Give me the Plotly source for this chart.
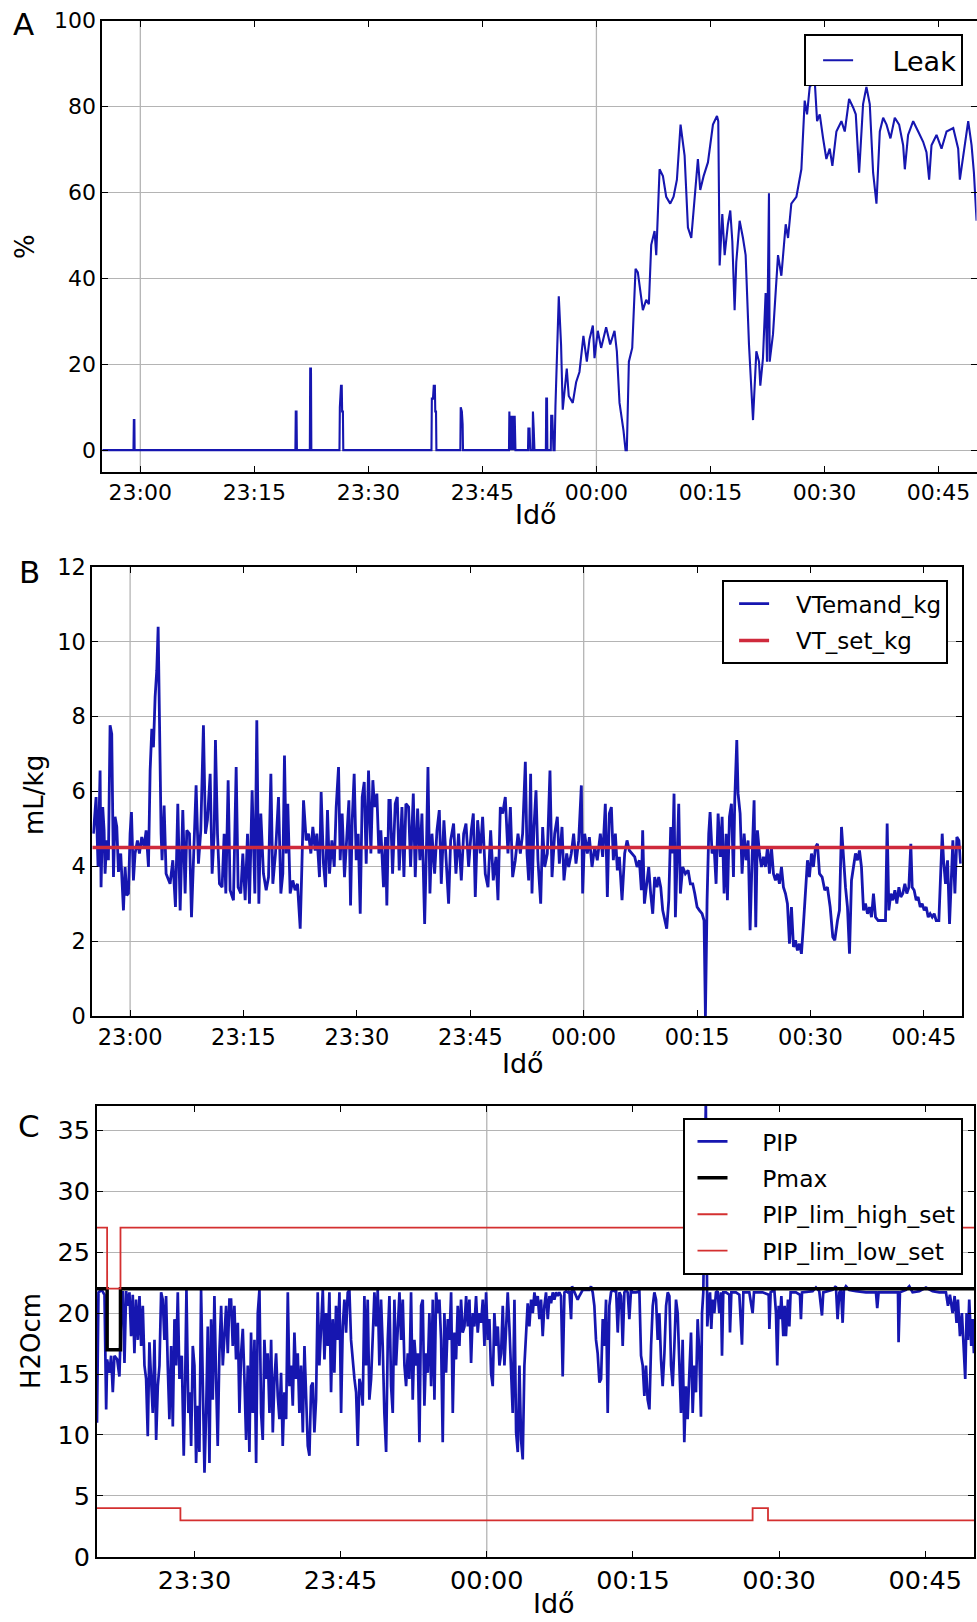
import pandas as pd
import plotly.graph_objects as go

# ---------------- data (minutes relative to 23:00) ----------------
leak_t = [-5, -0.9, -0.85, -0.78, -0.75, 20.4, 20.45, 20.55, 20.6, 22.3, 22.35, 22.45, 22.5,
          26.2, 26.25, 26.3, 26.4, 26.5, 26.55, 26.65, 26.7, 38.3, 38.35, 38.5, 38.6, 38.75, 38.8,
          38.9, 38.95, 42.1, 42.15, 42.3, 42.4, 42.45, 48.5, 48.55, 48.65, 48.75, 48.85, 49.0, 49.1,
          49.25, 49.35, 51.0, 51.05, 51.2, 51.3, 51.6, 51.65, 51.75, 51.85, 53.35, 53.4, 53.5, 53.55,
          54.0, 54.05, 54.2, 54.35, 54.5,
          54.61, 55.05, 55.35, 55.57, 56.1, 56.36, 56.89, 57.33, 57.77, 58.29, 58.74, 59.09, 59.53,
          59.75, 60.18, 60.62, 61.28, 61.81, 62.38, 62.69, 63.04, 63.56, 63.83, 64.0, 64.27, 64.71,
          65.15, 65.45, 66.11, 66.55, 66.9, 67.21, 67.65, 67.87, 68.31, 68.75, 69.18, 69.71, 70.15,
          70.59, 71.07, 71.6, 72.04, 72.48, 72.7, 73.05, 73.35, 73.66, 74.1, 74.67, 75.33, 75.86,
          76.03, 76.21, 76.56, 76.87, 77.3, 77.61, 77.88, 78.18, 78.4, 78.84, 79.28, 79.63, 80.07,
          80.6, 81.04, 81.39, 81.56, 81.91, 82.26, 82.44, 82.7, 82.79, 83.23, 83.89, 84.33, 84.9,
          85.21, 85.64, 86.31, 86.96, 87.4, 87.71, 88.06, 88.72, 89.03, 89.38, 89.82, 90.25, 90.69,
          91.04, 91.57, 92.23, 92.67, 93.24, 93.77, 94.12, 94.56, 95.08, 95.52, 95.96, 96.4, 96.84,
          97.28, 97.72, 98.16, 98.68, 99.25, 99.82, 100.35, 100.57, 101.0, 101.67, 102.33, 102.98,
          103.42, 103.77, 104.08, 104.74, 105.4, 106.06, 106.94, 107.59, 107.81, 108.25, 108.91,
          109.35, 109.66, 110.01]
leak_v = [0, 0, 7, 7, 0, 0, 9, 9, 0, 0, 19, 19, 0,
          0, 10, 14, 15, 15, 9, 9, 0, 0, 12, 12, 15, 15, 9,
          9, 0, 0, 10, 9, 6, 0, 0, 9, 0, 8, 0, 8, 0,
          8, 0, 0, 5, 5, 0, 0, 9, 5, 0, 0, 12, 12, 0,
          0, 8, 8, 0, 0,
          10.2, 35.8, 24.6, 9.4, 19, 12.6, 11, 15.8, 18.2, 26.6, 20.6, 25.8, 29,
          21.4, 27.8, 23.8, 28.6, 24.6, 27.8, 23, 11, 4.6, 0, 0, 20.6, 23.8,
          42.2, 41.4, 32.6, 35, 34, 47.8, 51, 45.4, 65.4, 63.8, 59, 57.4, 59,
          63, 75.8, 68.6, 51.8, 49.4, 55, 61.4, 67.8, 60.6, 63.8, 67, 75.8, 77.8,
          76.6, 43, 55, 45.4, 52.6, 55.8, 48.6, 32.6, 43.8, 53.4, 49.4, 45.4, 24.6,
          7, 23, 20.6, 15, 21.4, 36.6, 20.6, 59.8, 20.6, 27, 45.4, 40.6, 52.6,
          49.4, 57.4, 59, 65.4, 81.4, 78.2, 84.6, 86, 76.6, 78.2, 72.6, 67.8, 70.2,
          66.2, 74.2, 76.6, 74.2, 81.8, 79.8, 78.2, 64.6, 80.6, 84.6, 80.6, 64.6, 57.4,
          74.2, 77.4, 75.8, 72.6, 77.4, 75.8, 71, 65.4, 73.4, 76.6, 74.2, 71.8,
          69.4, 63, 71, 73.4, 70.2, 74.2, 75, 70.2, 63, 68.6, 76.6,
          71, 64.6, 53.4]

vt_t = [-4.85, -4.5, -4.24, -3.97, -3.84, -3.62, -3.44, -3.31, -3.09, -2.87, -2.65, -2.43, -2.2,
        -1.99, -1.76, -1.54, -1.24, -0.88, -0.66, -0.44, -0.22, 0.0, 0.18, 0.44, 0.66, 0.97, 1.23,
        1.54, 1.85, 2.12, 2.43, 2.65, 2.87, 3.09, 3.31, 3.53, 3.71, 3.84, 3.97, 4.1, 4.23, 4.5, 4.76,
        5.29, 5.65, 6.0, 6.31, 6.62, 6.97, 7.28, 7.5, 7.85, 8.12, 8.47, 8.73, 9.04, 9.35, 9.7, 9.97,
        10.23, 10.59, 10.85, 11.12, 11.29, 11.56, 11.82, 12.17, 12.44, 12.66, 12.97, 13.23, 13.67,
        14.03, 14.29, 14.64, 14.91, 15.22, 15.53, 15.79, 16.14, 16.5, 16.76, 17.03, 17.29, 17.64,
        18.0, 18.31, 18.62, 18.88, 19.23, 19.63, 19.94, 20.2, 20.42, 20.64, 20.86, 21.17, 21.52,
        21.83, 22.14, 22.5, 22.72, 22.94, 23.29, 23.6, 23.91, 24.17, 24.48, 24.7, 25.05, 25.27,
        25.58, 25.85, 26.11, 26.38, 26.69, 27.0, 27.26, 27.57, 27.79, 28.05, 28.36, 28.67, 28.94,
        29.16, 29.38, 29.64, 29.91, 30.17, 30.44, 30.7, 30.97, 31.23, 31.54, 31.85, 32.11, 32.33,
        32.64, 32.91, 33.17, 33.52, 33.79, 33.96, 34.23,
        34.41, 34.72, 35.07, 35.34, 35.6, 35.96, 36.22, 36.48, 36.84, 37.1, 37.46, 37.72, 38.03,
        38.34, 38.6, 38.96, 39.22, 39.4, 39.66, 39.93, 40.28, 40.59, 40.9, 41.16, 41.51, 41.82,
        42.13, 42.4, 42.79, 43.1, 43.45, 43.81, 44.12, 44.43, 44.78, 45.13, 45.4, 45.66, 45.97,
        46.32, 46.63, 46.98, 47.34, 47.69, 48.04, 48.4, 48.66, 48.97, 49.28, 49.63, 49.98, 50.3,
        50.6, 50.95, 51.31, 51.62, 51.92, 52.28, 52.5, 52.72, 52.98, 53.16, 53.42, 53.69, 53.95,
        54.31, 54.57, 54.84, 55.19, 55.54, 55.81, 56.16, 56.51, 56.78, 57.13, 57.39, 57.75, 58.01,
        58.36, 58.67, 58.98, 59.34, 59.69, 59.86, 60.13, 60.48, 60.75, 61.1, 61.45, 61.8, 62.2,
        62.51, 62.86, 63.13, 63.39, 63.66, 63.92, 64.19, 64.45, 64.72, 65.07, 65.42, 65.73, 66.04,
        66.39, 66.75, 67.06, 67.36, 67.63, 67.8, 68.03, 68.33, 68.6, 68.86, 69.13, 69.39, 69.7,
        69.92, 70.19, 70.45, 70.72, 70.98, 71.25, 71.51, 71.77, 71.95, 72.13,
        72.35, 72.57, 72.79, 73.1, 73.45, 73.81, 74.11, 74.42, 74.69, 75.0, 75.31, 75.66, 75.92,
        76.1, 76.32, 76.54, 76.72, 76.98, 77.25, 77.51, 77.78, 78.08, 78.31, 78.57, 78.84, 79.01,
        79.28, 79.54, 79.81, 79.98, 80.25, 80.42, 80.69, 80.95, 81.22, 81.48, 81.75, 82.01, 82.28,
        82.54, 82.76, 82.98, 83.25, 83.51, 83.78, 84.04, 84.31, 84.57, 84.83, 85.1, 85.36, 85.63,
        85.89, 86.16, 86.42, 86.69, 86.95, 87.22, 87.48, 87.75, 88.01, 88.27, 88.54, 88.8, 89.07,
        89.33, 89.6, 89.86, 90.13, 90.39, 90.66, 90.92, 91.19, 91.54, 91.89, 92.24, 92.6, 92.95,
        93.21, 93.57, 93.83, 94.1, 94.36, 94.63, 94.89, 95.16, 95.42, 95.69, 95.95, 96.21, 96.48,
        96.74, 97.01, 97.27, 97.54, 97.8, 98.07, 98.33, 98.6, 98.95, 99.3, 99.66, 99.92, 100.14,
        100.36, 100.63, 100.89, 101.16, 101.42, 101.69, 101.95, 102.21, 102.48, 102.74, 103.01,
        103.27, 103.45, 103.71, 103.98, 104.24, 104.51, 104.77, 105.04, 105.3, 105.57, 105.83,
        106.1, 106.36, 106.63, 106.98, 107.24, 107.42, 107.6, 107.86, 108.13, 108.39, 108.57,
        108.83, 109.1, 109.36, 109.63, 109.85]
vt_v = [4.87, 5.85, 3.98, 6.56, 3.44, 5.58, 4.96, 3.8, 4.69, 4.16, 7.77, 7.54, 3.71,
        5.32, 5.05, 3.85, 4.34, 2.82, 3.98, 3.22, 3.27, 4.87, 5.45, 3.62, 4.34, 4.69, 4.34,
        4.78, 4.51, 4.96, 3.98, 6.56, 7.67, 7.18, 8.53, 9.24, 10.4, 8.44, 5.76, 4.87, 4.16, 5.62, 3.8,
        3.53, 4.16, 2.91, 5.67, 2.82, 5.5, 3.27, 4.96, 4.87, 2.64, 4.69, 6.16, 4.07, 4.96, 7.77, 4.87,
        5.23, 6.47, 3.8, 4.87, 7.37, 4.87, 3.53, 3.44, 4.87, 3.27, 6.3, 3.36, 3.09,
        6.65, 3.44, 3.27, 4.34, 3.09, 4.87, 3.0, 6.03, 3.27, 7.9, 3.0, 5.41, 3.8,
        3.36, 3.71, 6.47, 3.53, 4.34, 5.85, 3.27, 3.8, 6.96, 4.34, 5.67, 3.27, 3.62,
        3.36, 3.53, 2.33, 3.98, 5.76, 4.69, 4.87, 4.34, 5.05, 4.42, 4.87, 3.71, 5.98,
        4.07, 3.44, 5.5, 3.8, 4.69, 3.98, 5.58, 6.65, 4.16, 5.41, 3.71, 4.78, 5.76,
        2.95, 5.23, 6.47, 4.16, 4.87, 2.73, 5.85, 6.25, 4.07, 6.56, 4.34, 6.3, 5.58,
        5.94, 4.34, 4.96, 3.44, 4.78, 2.95, 5.76,
        5.76, 3.8, 5.67, 5.85, 3.89, 5.58, 3.71, 5.67, 5.58, 3.98, 5.94, 3.71, 5.54,
        4.16, 5.41, 2.46, 4.69, 6.65, 3.27, 4.87, 3.8, 4.96, 5.5, 3.53, 5.23, 4.16,
        3.0, 4.69, 5.14, 3.8, 4.87, 3.62, 4.87, 5.14, 3.98, 4.96, 5.41, 3.18, 5.23,
        4.34, 5.32, 3.8, 3.44, 4.96, 3.62, 4.25, 3.09, 5.58, 5.41, 5.85, 4.34, 5.58,
        3.71, 4.16, 4.87, 4.34, 4.87, 6.79, 4.34, 3.62, 6.47, 3.27, 5.05, 6.03, 4.16,
        3.0, 5.05, 3.98, 4.34, 6.56, 3.71, 4.87, 5.32, 4.07, 5.05, 3.62, 4.34, 3.98,
        4.34, 4.87, 4.07, 4.69, 6.16, 3.27, 4.87, 4.34, 4.78, 3.98, 4.51, 4.16, 4.87,
        4.25, 5.67, 3.18, 5.41, 5.58, 4.16, 4.87, 3.89, 4.25, 3.09, 4.34, 4.69, 4.42,
        4.34, 4.25, 3.98, 4.16, 3.36, 4.96, 3.0, 3.44, 3.98, 3.27, 2.73, 3.71, 3.44,
        3.71, 3.44, 2.82, 2.55, 2.33, 3.09, 5.05, 4.34, 5.94, 2.64,
        4.34, 5.67, 3.27, 3.98, 3.8, 3.89, 3.53, 3.53, 3.27, 2.91, 2.82, 2.73, 2.55,
        0.0, 3.09, 4.87, 5.45, 4.34, 4.51, 3.53, 5.41, 4.25, 5.32, 3.27, 4.87, 3.09,
        5.32, 5.67, 3.71, 5.76, 7.37, 5.94, 5.41, 3.8, 4.87, 4.16, 4.69, 2.29, 4.25,
        5.76, 2.37, 4.96, 4.34, 3.98, 4.25, 3.98, 4.51, 3.8, 4.51, 3.8, 3.62, 3.8,
        3.53, 3.98, 3.44, 3.27, 3.0, 1.93, 2.91, 1.84, 2.02, 1.75, 1.93, 1.66, 2.46,
        3.27, 4.16, 3.71, 4.34, 3.98, 4.51, 4.6, 3.8, 3.71, 3.36, 3.44, 2.91, 2.11,
        2.02, 2.55, 2.82, 5.05, 4.16, 3.44, 2.91, 1.66, 3.62, 3.98, 4.34, 4.16, 4.42,
        3.98, 2.82, 3.0, 2.73, 2.91, 2.64, 3.27, 2.64, 2.55, 2.55, 2.55, 2.55, 5.14,
        2.82, 3.27, 3.09, 3.36, 3.0, 3.44, 3.18, 3.27, 3.53, 3.27, 3.44,
        4.6, 3.44, 3.36, 3.09, 3.18, 2.91, 3.0, 2.82, 2.91, 2.64, 2.73,
        2.64, 2.73, 2.55, 2.55, 4.16, 4.87, 4.16, 3.53, 4.16, 2.46, 3.36,
        4.69, 3.27, 4.78, 4.69, 4.07]

vtset_t = [-5, 110]
vtset_v = [4.5, 4.5]

pip_t = [20.0, 20.15, 20.49, 20.77, 20.94, 21.04, 21.28, 21.45, 21.62, 21.79, 22.07, 22.3, 22.48,
         22.65, 22.82, 22.99, 23.16, 23.33, 23.5, 23.67, 23.84, 24.01, 24.19, 24.36, 24.53, 24.7,
         24.87, 25.04, 25.21, 25.38, 25.55, 25.72, 25.9, 26.07, 26.24, 26.41, 26.58, 26.75, 26.92,
         27.09, 27.26, 27.43, 27.61, 27.78, 27.95, 28.12, 28.29, 28.46, 28.7, 28.9, 29.04, 29.18,
         29.38, 29.52, 29.66, 29.83, 30.0, 30.17, 30.34, 30.51, 30.68, 30.85, 31.03, 31.2, 31.37,
         31.54, 31.71, 31.88, 32.05, 32.22, 32.39, 32.56, 32.74, 32.91, 33.08, 33.25, 33.42, 33.59,
         33.76, 33.93, 34.1, 34.27, 34.45, 34.62, 34.79, 34.96, 35.13, 35.3, 35.47, 35.64, 35.81,
         35.98, 36.16, 36.33, 36.5, 36.67, 36.84, 37.01, 37.18, 37.35, 37.52, 37.7, 37.87, 38.04,
         38.21, 38.38, 38.55, 38.72, 38.89, 39.06, 39.23, 39.41, 39.58, 39.75, 39.92, 40.09, 40.26,
         40.43, 40.6, 40.77, 40.94, 41.12, 41.29, 41.46, 41.63, 41.8, 41.97, 42.14, 42.31, 42.48,
         42.65, 42.82, 42.99, 43.17, 43.34, 43.51, 43.68, 43.85, 44.02, 44.19, 44.36, 44.53, 44.71,
         44.88, 45.05, 45.22, 45.39, 45.56, 45.73, 45.9, 46.07, 46.25, 46.42, 46.59, 46.76, 46.93,
         47.1, 47.27, 47.44, 47.61, 47.78, 47.95, 48.13, 48.3, 48.47, 48.64, 48.81, 48.98, 49.15,
         49.32, 49.49, 49.67, 49.84, 50.01,
         50.18, 50.35, 50.52, 50.69, 50.86, 51.04, 51.21, 51.38, 51.55, 51.72, 51.89, 52.06, 52.23,
         52.4, 52.57, 52.75, 52.92, 53.09, 53.26, 53.43, 53.6, 53.77, 53.94, 54.11, 54.29, 54.46,
         54.63, 54.8, 54.97, 55.14, 55.31, 55.48, 55.65, 55.82, 56.0, 56.17, 56.34, 56.51, 56.68,
         56.85, 57.02, 57.19, 57.36, 57.53, 57.71, 57.88, 58.05, 58.22, 58.39, 58.56, 58.73, 58.9,
         59.07, 59.24, 59.42, 59.59, 59.76, 59.93, 60.1, 60.27, 60.44, 60.61, 60.78, 60.95, 61.13,
         61.3, 61.47, 61.64, 61.81, 61.98, 62.15, 62.32, 62.49, 62.66, 62.84, 63.01, 63.18, 63.35,
         63.52, 63.69, 63.86, 64.03, 64.2, 64.37, 64.55, 64.72, 64.89, 65.06, 65.23, 65.4, 65.57,
         65.74, 65.91, 66.08, 66.26, 66.43, 66.6, 66.77, 66.94, 67.11, 67.28, 67.45, 67.62, 67.79,
         67.97, 68.14, 68.31, 68.48, 68.65, 68.75, 68.99, 69.16, 69.33, 69.5, 69.67, 69.85, 70.19,
         70.53, 70.7, 70.87, 71.04, 71.21, 71.38, 71.56, 71.73, 71.9, 72.07, 72.24, 72.41, 72.58,
         72.75, 72.92, 73.1, 73.27, 73.44, 73.61, 73.78, 73.95, 74.12, 74.29, 74.46, 74.63, 74.8,
         74.98, 75.32, 75.66, 75.83, 76.0, 76.17, 76.34, 76.51, 76.69, 76.86, 77.03, 77.2, 77.37,
         77.54, 77.71, 77.88, 78.05, 78.23, 78.4, 78.57, 78.74, 78.91, 79.08, 79.25, 79.42, 79.59,
         79.76, 79.93, 80.1, 80.27, 80.44, 80.61, 80.79, 80.96, 81.13, 81.3, 81.47, 81.64, 81.81,
         81.98, 82.09, 82.22, 82.48, 82.63, 82.77, 82.91, 83.04, 83.18, 83.35, 83.52, 83.69, 83.86,
         84.03, 84.14, 84.27, 84.55, 84.89, 84.96, 85.1, 85.57, 85.92, 86.19, 86.33, 86.94, 87.28,
         87.42, 88.31, 88.93, 89.0, 89.13, 89.51, 89.68, 89.81, 89.95, 90.09, 90.23, 90.43, 90.57,
         90.7, 90.91, 91.05, 91.18, 91.73, 92.14, 92.24, 92.35, 93.44, 93.78, 94.12, 94.4, 94.53,
         95.49, 95.83, 96.0, 96.18, 96.35, 96.52, 96.65, 96.86, 97.2, 97.89, 98.91, 99.94, 100.07,
         100.21, 101.31, 102.2, 102.26, 102.4, 103.02, 103.36, 103.7, 104.38, 105.07, 105.75,
         106.44, 107.12, 107.33, 107.53, 107.8, 108.01, 108.21, 108.35, 108.56, 108.76, 108.97,
         109.1, 109.24, 109.38, 109.51, 109.72, 109.86, 109.99]
pip_v = [11.0, 21.7, 21.9, 21.5, 12.1, 16.2, 15.1, 16.5, 13.5, 16.5, 16.2, 14.8, 20.0,
         21.8, 15.9, 21.8, 20.6, 21.7, 18.1, 21.5, 16.7, 21.1, 17.8, 21.4, 17.3, 20.6,
         15.7, 14.6, 9.9, 17.6, 14.6, 11.8, 17.8, 9.6, 14.0, 15.7, 21.7, 21.1, 17.8,
         21.4, 15.7, 11.3, 17.3, 10.7, 19.5, 15.7, 21.7, 14.6, 16.5, 8.3, 14.0, 21.9,
         11.8, 13.5, 9.1, 17.3, 15.7, 7.7, 12.4, 8.6, 21.9, 14.6, 6.9, 11.8, 18.9,
         7.7, 19.5, 12.9, 21.4, 14.6, 9.1, 16.7, 20.6, 15.7, 18.1, 20.6, 16.7, 21.1,
         21.1, 17.3, 20.6, 16.2, 19.2, 11.8, 16.7, 18.7, 14.6, 9.6, 15.7, 8.6, 18.4,
         11.8, 17.8, 7.7, 20.0, 21.9, 11.8, 9.6, 17.8, 14.6, 16.7, 11.8, 17.8, 10.2,
         14.6, 16.7, 13.2, 11.3, 15.1, 9.1, 13.5, 11.3, 21.7, 14.0, 15.7, 12.4, 18.4,
         14.6, 16.7, 11.8, 15.7, 10.2, 17.3, 13.5, 9.1, 8.3, 14.0, 14.3, 10.2, 12.9,
         21.7, 15.7, 18.4, 21.9, 16.2, 20.0, 17.3, 21.7, 13.5, 19.5, 15.1, 20.6, 17.8,
         21.7, 11.8, 18.9, 21.1, 18.4, 21.7, 21.9, 17.8, 15.7, 14.6, 13.5, 9.1, 14.6,
         14.0, 12.4, 21.4, 15.7, 21.1, 12.9, 14.6, 18.1, 21.7, 18.9, 21.9, 15.7, 21.1,
         17.3, 11.8, 8.6, 17.8, 21.4,
         14.0, 11.8, 21.1, 15.7, 18.9, 21.7, 17.8, 21.1, 15.7, 14.0, 16.7, 14.6, 21.7,
         12.9, 17.8, 15.7, 16.7, 9.4, 20.6, 21.1, 12.4, 16.7, 15.1, 20.0, 14.0, 21.1,
         12.9, 21.7, 20.0, 21.1, 17.8, 9.4, 20.0, 15.1, 19.5, 17.8, 21.7, 11.8, 18.4,
         16.2, 20.6, 17.3, 21.1, 18.4, 18.9, 21.4, 18.9, 21.1, 15.9, 20.0, 18.9, 21.4,
         18.4, 20.0, 19.2, 21.1, 17.3, 21.7, 17.8, 19.5, 15.1, 14.0, 20.0, 17.3, 18.9,
         15.7, 16.7, 20.6, 15.7, 18.9, 21.7, 18.9, 14.6, 11.8, 21.1, 10.2, 8.6, 15.7,
         9.6, 8.0, 15.7, 18.9, 20.8, 18.9, 21.1, 20.0, 21.7, 20.6, 21.4, 19.5, 21.1,
         18.1, 20.6, 21.7, 19.5, 21.4, 20.8, 21.7, 21.1, 21.7, 21.4, 21.7, 21.4, 14.8,
         21.7, 21.8, 21.7, 21.8, 19.5, 22.2, 21.7, 21.4, 21.1, 21.4, 21.7, 21.9, 21.9,
         21.9, 22.2, 21.7, 20.6, 17.8, 16.7, 14.3, 14.6, 19.5, 17.3, 21.1, 11.8, 20.6,
         21.7, 21.9, 21.8, 21.9, 18.4, 21.7, 21.4, 17.3, 21.7, 21.9, 21.7, 19.5, 21.9,
         21.7, 21.7, 21.8, 16.5, 15.7, 13.2, 15.7, 12.9, 12.1, 17.3, 20.6, 21.7, 21.1,
         17.8, 20.0, 16.2, 14.0, 16.7, 20.6, 21.7, 21.4, 15.7, 14.0, 17.3, 21.1, 20.0,
         15.7, 11.8, 17.8, 9.4, 14.0, 11.3, 15.1, 18.4, 11.8, 15.7, 13.5, 19.5, 16.7,
         11.5, 20.0, 21.7, 37.5, 18.9, 20.6, 21.7, 18.7, 21.1, 20.0, 21.7, 21.8, 20.0,
         21.7, 16.5, 21.7, 21.7, 21.5, 18.4, 21.7, 21.7, 21.5, 17.4, 21.7, 21.7, 20.0,
         21.7, 21.7, 21.5, 18.7, 21.7, 21.9, 20.0, 15.7, 20.6, 19.5, 21.4, 18.1, 20.6,
         18.1, 21.1, 18.9, 21.7, 21.7, 21.5, 19.5, 21.7, 21.8, 22.1, 21.8, 19.8, 21.7,
         21.9, 22.2, 19.5, 21.7, 21.9, 19.2, 21.9, 22.2, 21.9, 21.8, 21.7, 21.7, 20.4,
         21.7, 21.7, 21.7, 17.6, 21.7, 21.9, 22.2, 21.7, 21.8, 22.1, 21.8,
         21.7, 21.7, 20.6, 21.5, 20.0, 21.4, 19.2, 21.1, 18.1, 20.0, 16.7,
         14.6, 20.0, 17.8, 21.1, 17.3, 19.5, 16.7]

pmax_t = [20, 21.04, 22.41, 110]
pmax_v = [22, 17, 22, 22]
high_t = [20, 21.04, 22.41, 110]
high_v = [27, 22, 27, 27]
low_t = [20, 28.56, 87.28, 88.86, 110]
low_v = [4, 3, 4, 3, 3]

x_ticks_step_min = 15
a_range = [-5, 110]
b_range = [-5, 110]
c_range = [20, 110]

# ---------------- helpers ----------------
BASE = pd.Timestamp("2017-03-01 23:00:00")


def tt(mins):
    return [BASE + pd.Timedelta(minutes=m) for m in mins]


W, H = 977, 1622


def fx(x):
    return x / W


def fy(y):
    return 1 - y / H


def pad(name, n):
    # non-breaking spaces to reproduce the gap between legend line and label
    return "\u00a0" * n + name


BLUE = "#1616b0"
RED_THICK = "#cf2a3c"
RED_THIN = "#d43030"
GRID = "#b4b4b4"
FONT = "DejaVu Sans"

fig = go.Figure()

# Panel A
fig.add_trace(go.Scatter(x=tt(leak_t), y=leak_v, mode="lines", name=pad("Leak", 4),
                         line=dict(color=BLUE, width=2.1), xaxis="x", yaxis="y",
                         legend="legend"))
# Panel B
fig.add_trace(go.Scatter(x=tt(vt_t), y=vt_v, mode="lines", name=pad("VTemand_kg", 3),
                         line=dict(color=BLUE, width=2.8), xaxis="x2", yaxis="y2",
                         legend="legend2", legendgroup="b1"))
fig.add_trace(go.Scatter(x=tt(vtset_t), y=vtset_v, mode="lines", name=pad("VT_set_kg", 3),
                         line=dict(color=RED_THICK, width=3.5), xaxis="x2", yaxis="y2",
                         legend="legend2", legendgroup="b2"))
# Panel C
fig.add_trace(go.Scatter(x=tt(pip_t), y=pip_v, mode="lines", name=pad("PIP", 4),
                         line=dict(color=BLUE, width=2.7), xaxis="x3", yaxis="y3",
                         legend="legend3", legendgroup="c1"))
fig.add_trace(go.Scatter(x=tt(pmax_t), y=pmax_v, mode="lines", name=pad("Pmax", 4),
                         line=dict(color="black", width=3.5, shape="hv"), xaxis="x3", yaxis="y3",
                         legend="legend3", legendgroup="c2"))
fig.add_trace(go.Scatter(x=tt(high_t), y=high_v, mode="lines", name=pad("PIP_lim_high_set", 4),
                         line=dict(color=RED_THIN, width=1.8, shape="hv"), xaxis="x3", yaxis="y3",
                         legend="legend3", legendgroup="c3"))
fig.add_trace(go.Scatter(x=tt(low_t), y=low_v, mode="lines", name=pad("PIP_lim_low_set", 4),
                         line=dict(color=RED_THIN, width=1.8, shape="hv"), xaxis="x3", yaxis="y3",
                         legend="legend3", legendgroup="c4"))


def xax(domain, rng, anchor, fsize):
    return dict(domain=domain, anchor=anchor, type="date",
                range=[BASE + pd.Timedelta(minutes=rng[0]), BASE + pd.Timedelta(minutes=rng[1])],
                tick0=BASE, dtick=x_ticks_step_min * 60 * 1000, tickformat="%H:%M",
                showgrid=False, zeroline=False, showline=True, linecolor="black", linewidth=1.8,
                mirror="ticks", ticks="inside", ticklen=6, tickwidth=1.2, tickcolor="black",
                tickfont=dict(family=FONT, size=fsize, color="black"))


def yax(domain, rng, dtick, anchor, fsize):
    return dict(domain=domain, anchor=anchor, range=rng, tick0=0, dtick=dtick,
                showgrid=True, gridcolor=GRID, gridwidth=1.3, zeroline=False,
                showline=True, linecolor="black", linewidth=1.8, mirror="ticks",
                ticks="inside", ticklen=6, tickwidth=1.2, tickcolor="black",
                tickfont=dict(family=FONT, size=fsize, color="black"))


# hour grid lines (major ticks of the time axis)
shapes = []
for xref, rng in (("x", a_range), ("x2", b_range), ("x3", c_range)):
    h = int(rng[0] // 60) * 60
    while h <= rng[1]:
        if h >= rng[0]:
            shapes.append(dict(type="line", xref=xref, yref=xref.replace("x", "y") + " domain",
                               x0=BASE + pd.Timedelta(minutes=h), x1=BASE + pd.Timedelta(minutes=h),
                               y0=0, y1=1, line=dict(color=GRID, width=1.3), layer="below"))
        h += 60


def ann(text, x, y, size, angle=0):
    return dict(text=text, x=fx(x), y=fy(y), xref="paper", yref="paper", showarrow=False,
                xanchor="center", yanchor="middle", textangle=angle,
                font=dict(family=FONT, size=size, color="black"))


annotations = [
    ann("A", 23, 24, 31), ann("B", 29, 572, 31), ann("C", 29, 1126, 31),
    ann("%", 25, 247, 26, -90), ann("mL/kg", 34, 795, 26, -90), ann("H2Ocm", 31, 1341, 26, -90),
    ann("Idő", 536, 514, 27), ann("Idő", 523, 1063, 27), ann("Idő", 554, 1603, 27),
]


def leg(xr, yt, size, gap, indent):
    return dict(x=fx(xr), y=fy(yt), xanchor="right", yanchor="top", bgcolor="white",
                bordercolor="black", borderwidth=1.8, tracegroupgap=gap, indentation=indent,
                font=dict(family=FONT, size=size, color="black"))


fig.update_layout(
    width=W, height=H, autosize=False,
    margin=dict(l=0, r=0, t=0, b=0, pad=0, autoexpand=False),
    paper_bgcolor="white", plot_bgcolor="white",
    font=dict(family=FONT, color="black"),
    xaxis=xax([fx(102.3), fx(976.5)], a_range, "y", 22),
    yaxis=yax([fy(471.6), fy(20.7)], [-5, 100], 20, "x", 22),
    xaxis2=xax([fx(92.3), fx(961.7)], b_range, "y2", 22.5),
    yaxis2=yax([fy(1015.9), fy(566.9)], [0, 12], 2, "x2", 22.5),
    xaxis3=xax([fx(97), fx(974)], c_range, "y3", 25.5),
    yaxis3=yax([fy(1556.9), fy(1105.8)], [0, 37], 5, "x3", 25.5),
    legend=leg(963.3, 34.4, 27, 4, 12),
    legend2=leg(948.3, 580.3, 23, 4, 10),
    legend3=leg(962.7, 1117.9, 23.4, 3, 8),
    shapes=shapes,
    annotations=annotations,
    showlegend=True,
)

fig.write_html("out.html")
